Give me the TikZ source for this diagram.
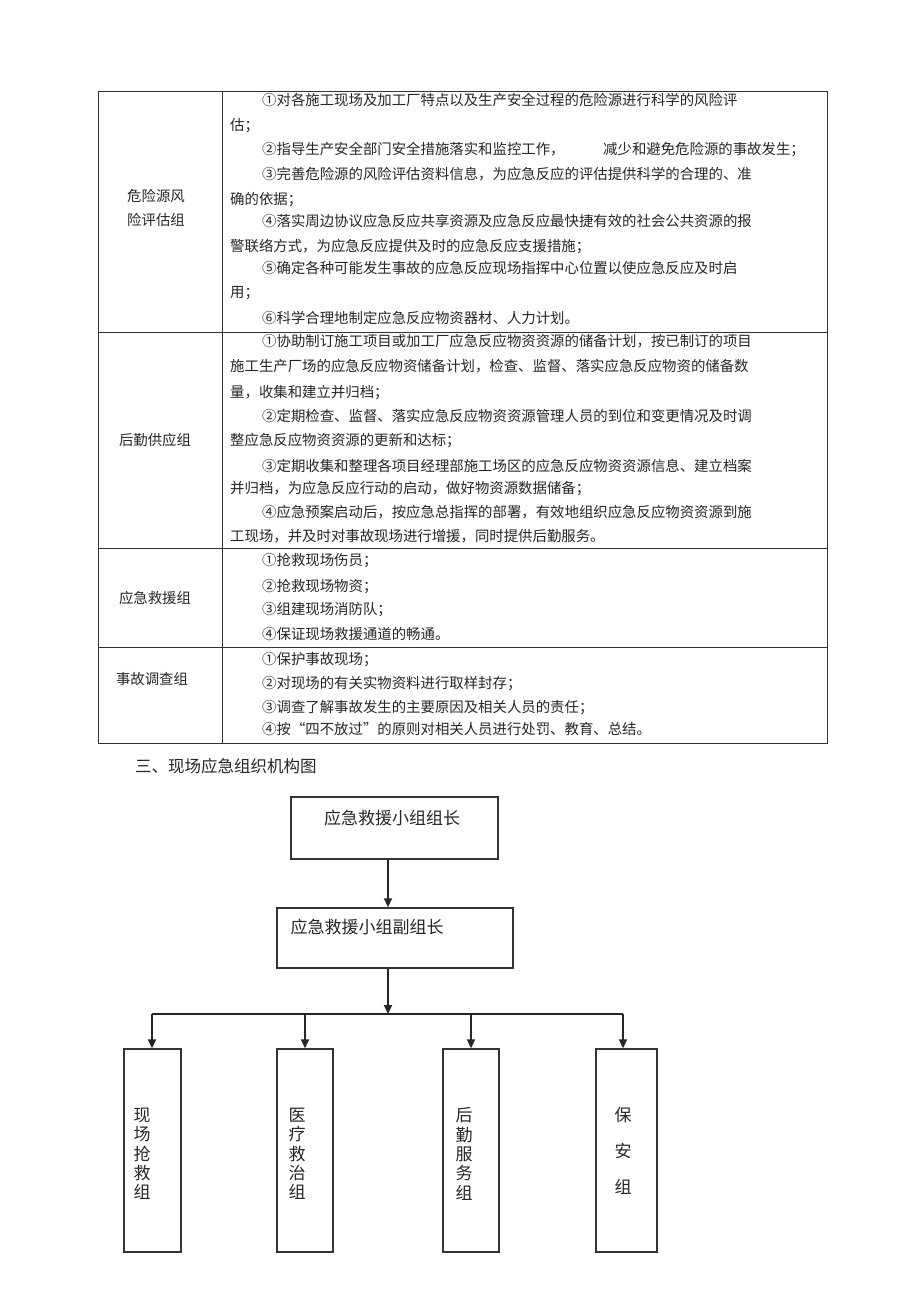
\documentclass[tikz,border=0pt]{standalone}
\usepackage{fontspec}
\newfontfamily\cjk{Noto Sans CJK SC}
\newcommand\cnum[1]{\makebox[1em][c]{#1}}
\usetikzlibrary{arrows.meta}
\tikzset{
  tbl/.style={line width=1pt, draw=black!80},
  txt/.style={anchor=base west, inner sep=0pt, font=\cjk\fontsize{14.4}{14.4}\selectfont, text=black!85},
  lbl/.style={anchor=base, inner sep=0pt, font=\cjk\fontsize{14.4}{14.4}\selectfont, text=black!85},
  box/.style={draw=black!80, line width=1.4pt, inner sep=0pt},
  boxtxt/.style={inner sep=0pt, font=\cjk\fontsize{17}{17}\selectfont, text=black!85},
  vtxt/.style={inner sep=0pt, align=center, font=\cjk\fontsize{17}{19.3}\selectfont, text=black!85},
  arr/.style={line width=1.8pt, draw=black!85, -{Triangle[width=8pt,length=9pt]}},
  bus/.style={line width=1.8pt, draw=black!85}
}
\begin{document}
\begin{tikzpicture}[x=1pt,y=-1pt]
\useasboundingbox (0,0) rectangle (920,1303);
\fill[white] (0,0) rectangle (920,1303);
% table
\draw[tbl] (98,92) rectangle (827,743);
\draw[tbl] (222,92) -- (222,743);
\draw[tbl] (98,332) -- (827,332);
\draw[tbl] (98,548) -- (827,548);
\draw[tbl] (98,647) -- (827,647);
% row 1
\node[lbl] (l1a) at (156,201) {危险源风};
\node[lbl] (l1b) at (156,225) {险评估组};
\node[txt] (a1) at (262,106) {\cnum{①}对各施工现场及加工厂特点以及生产安全过程的危险源进行科学的风险评};
\node[txt] (a2) at (230,131) {估；};
\node[txt] (a3) at (262,154) {\cnum{②}指导生产安全部门安全措施落实和监控工作，};
\node[txt] (a3b) at (603,154) {减少和避免危险源的事故发生；};
\node[txt] (a4) at (262,179) {\cnum{③}完善危险源的风险评估资料信息，为应急反应的评估提供科学的合理的、准};
\node[txt] (a5) at (230,204) {确的依据；};
\node[txt] (a6) at (262,226) {\cnum{④}落实周边协议应急反应共享资源及应急反应最快捷有效的社会公共资源的报};
\node[txt] (a7) at (230,251) {警联络方式，为应急反应提供及时的应急反应支援措施；};
\node[txt] (a8) at (262,273) {\cnum{⑤}确定各种可能发生事故的应急反应现场指挥中心位置以使应急反应及时启};
\node[txt] (a9) at (230,297) {用；};
\node[txt] (a10) at (262,323) {\cnum{⑥}科学合理地制定应急反应物资器材、人力计划。};
% row 2
\node[lbl] (l2) at (155,445) {后勤供应组};
\node[txt] (b1) at (262,346) {\cnum{①}协助制订施工项目或加工厂应急反应物资资源的储备计划，按已制订的项目};
\node[txt] (b2) at (230,371) {施工生产厂场的应急反应物资储备计划，检查、监督、落实应急反应物资的储备数};
\node[txt] (b3) at (230,397) {量，收集和建立并归档；};
\node[txt] (b4) at (262,421) {\cnum{②}定期检查、监督、落实应急反应物资资源管理人员的到位和变更情况及时调};
\node[txt] (b5) at (230,445) {整应急反应物资资源的更新和达标；};
\node[txt] (b6) at (262,471) {\cnum{③}定期收集和整理各项目经理部施工场区的应急反应物资资源信息、建立档案};
\node[txt] (b7) at (230,493) {并归档，为应急反应行动的启动，做好物资源数据储备；};
\node[txt] (b8) at (262,517) {\cnum{④}应急预案启动后，按应急总指挥的部署，有效地组织应急反应物资资源到施};
\node[txt] (b9) at (230,541) {工现场，并及时对事故现场进行增援，同时提供后勤服务。};
% row 3
\node[lbl] (l3) at (155,603) {应急救援组};
\node[txt] (c1) at (262,565) {\cnum{①}抢救现场伤员；};
\node[txt] (c2) at (262,591) {\cnum{②}抢救现场物资；};
\node[txt] (c3) at (262,614) {\cnum{③}组建现场消防队；};
\node[txt] (c4) at (262,639) {\cnum{④}保证现场救援通道的畅通。};
% row 4
\node[lbl] (l4) at (152,684) {事故调查组};
\node[txt] (d1) at (262,664) {\cnum{①}保护事故现场；};
\node[txt] (d2) at (262,688) {\cnum{②}对现场的有关实物资料进行取样封存；};
\node[txt] (d3) at (262,712) {\cnum{③}调查了解事故发生的主要原因及相关人员的责任；};
\node[txt] (d4) at (262,734) {\cnum{④}按“四不放过”的原则对相关人员进行处罚、教育、总结。};
% heading
\node[anchor=base west, inner sep=0pt, font=\cjk\fontsize{16.5}{16.5}\selectfont, text=black!85] (h) at (135,772) {三、现场应急组织机构图};
% chart
\coordinate (spine) at (388,0);
\node[box, minimum width=207pt, minimum height=62pt] (top) at (394.5,828) {};
\node[boxtxt] (toptxt) at (392,818) {应急救援小组组长};
\node[box, minimum width=236pt, minimum height=60pt] (dep) at (395,938) {};
\node[boxtxt] (deptxt) at (367,927) {应急救援小组副组长};
\coordinate (busc) at (388,1014);
\coordinate (busl) at (152,1014);
\coordinate (busr) at (623,1014);
\draw[arr] (top.south -| spine) -- (dep.north -| spine);
\draw[arr] (dep.south -| spine) -- (busc);
\draw[bus] (busl) -- (busr);
\node[box, minimum width=57pt, minimum height=203pt] (g1) at (152.5,1150.5) {};
\node[box, minimum width=56pt, minimum height=203pt] (g2) at (305,1150.5) {};
\node[box, minimum width=56pt, minimum height=203pt] (g3) at (471,1150.5) {};
\node[box, minimum width=61pt, minimum height=203pt] (g4) at (626.5,1150.5) {};
\draw[arr] (busl) -- (busl |- g1.north);
\draw[arr] (g2.north |- busc) -- (g2.north);
\draw[arr] (g3.north |- busc) -- (g3.north);
\draw[arr] (busr) -- (busr |- g4.north);
\node[vtxt] (t1) at (142,1154) {现\\场\\抢\\救\\组};
\node[vtxt] (t2) at (297,1154) {医\\疗\\救\\治\\组};
\node[vtxt] (t3) at (464,1154) {后\\勤\\服\\务\\组};
\node[vtxt, font=\cjk\fontsize{17}{36}\selectfont] (t4) at (623,1151) {保\\安\\组};
\end{tikzpicture}
\end{document}
